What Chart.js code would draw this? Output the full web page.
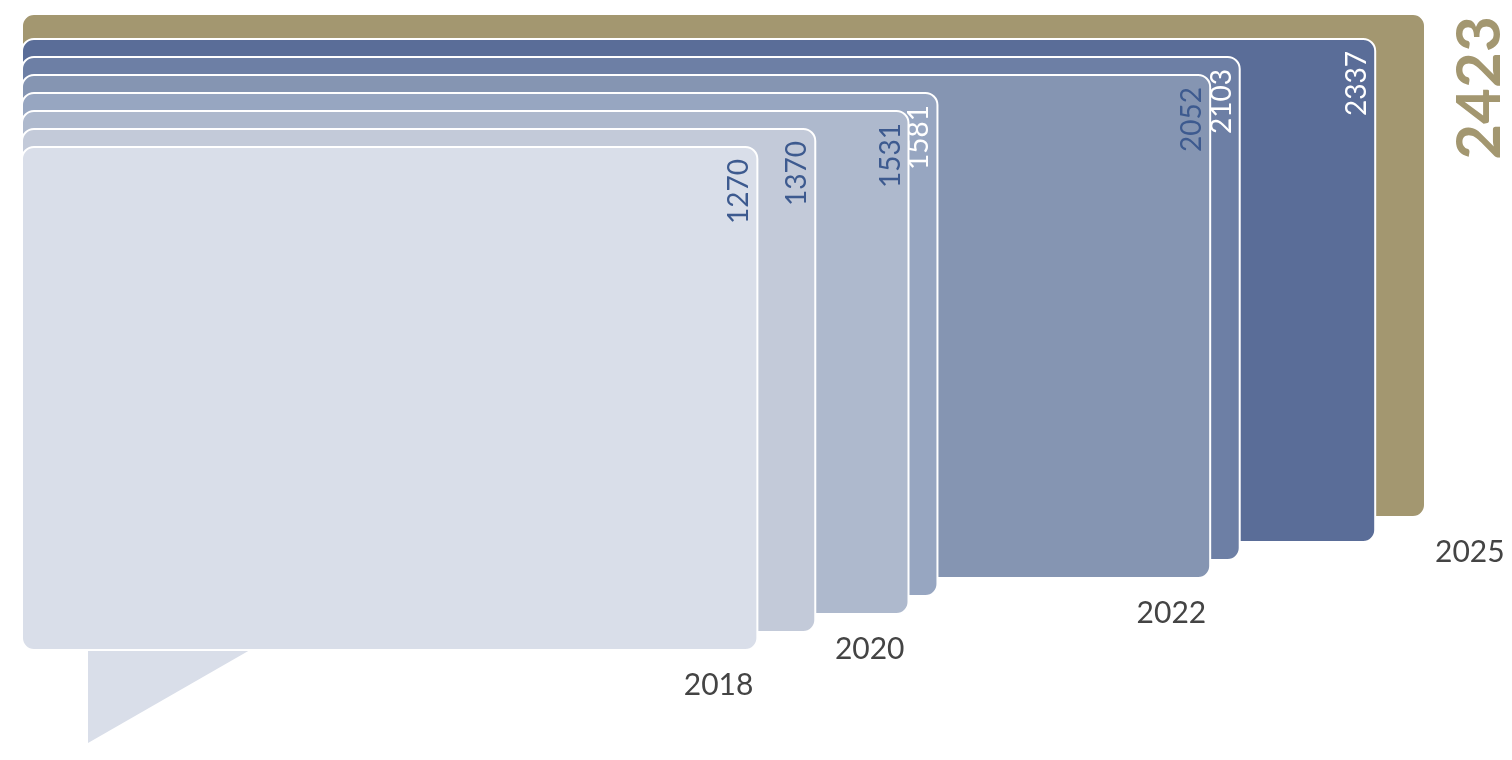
<!DOCTYPE html>
<html lang="en">
<head>
  <meta charset="UTF-8">
  <title>Yearly totals</title>
  <script src="https://cdn.jsdelivr.net/npm/chart.js"></script>
  <style>
    body { margin: 0; background: #fff; }
    #wrap { width: 1512px; height: 760px; }
  </style>
</head>
<body>
  <div id="wrap"><canvas id="c"></canvas></div>
  <script>
    const years = ['2018', '2019', '2020', '2021', '2022', '2023', '2024', '2025'];
    const values = [1270, 1370, 1531, 1581, 2052, 2103, 2337, 2423];
    const yearLabelShown = [true, false, true, false, true, false, false, true];
    const fills = ['#d9dee9', '#c3cad9', '#aeb9cd', '#97a6c1', '#8595b2', '#6d7fa5', '#5a6d98', '#a39770'];
    const textColors = ['#3d5a8f', '#3d5a8f', '#3d5a8f', '#ffffff', '#3d5a8f', '#ffffff', '#ffffff', '#a39770'];

    function rr(ctx, x, y, w, h, r) {
      ctx.beginPath();
      ctx.moveTo(x + r, y);
      ctx.arcTo(x + w, y, x + w, y + h, r);
      ctx.arcTo(x + w, y + h, x, y + h, r);
      ctx.arcTo(x, y + h, x, y, r);
      ctx.arcTo(x, y, x + w, y, r);
      ctx.closePath();
    }

    const boxes = {
      id: 'boxes',
      afterDatasetsDraw(chart) {
        const ctx = chart.ctx;
        const xs = chart.scales.x;
        const left = xs.getPixelForValue(0);
        ctx.save();
        // callout tail
        ctx.fillStyle = fills[0];
        ctx.beginPath();
        ctx.moveTo(88, 640); ctx.lineTo(88, 743); ctx.lineTo(250, 650); ctx.lineTo(250, 640);
        ctx.fill();
        for (let i = values.length - 1; i >= 0; i--) {
          const top = i === 7 ? 14 : 147 - i * 18;
          const h = 503;
          const right = xs.getPixelForValue(values[i]);
          rr(ctx, left, top, right - left, h, 12);
          ctx.fillStyle = fills[i];
          ctx.fill();
          ctx.strokeStyle = '#ffffff';
          ctx.lineWidth = 2;
          ctx.stroke();
          // value label
          ctx.save();
          const last = i === 7;
          ctx.translate(last ? 1500 : right - 9, last ? 16 : top + 12);
          ctx.rotate(-Math.PI / 2);
          ctx.textAlign = 'right';
          ctx.textBaseline = 'alphabetic';
          ctx.fillStyle = textColors[i];
          ctx.font = last ? 'bold 62px Lato' : '28px Lato';
          ctx.fillText(String(values[i]), 0, 0);
          ctx.restore();
          if (yearLabelShown[i]) {
            ctx.fillStyle = '#444444';
            ctx.font = '30px Lato';
            ctx.textBaseline = 'top';
            ctx.textAlign = last ? 'left' : 'right';
            ctx.fillText(years[i], last ? right + 10 : right - 4, top + h + 20);
          }
        }
        ctx.restore();
      }
    };

    new Chart(document.getElementById('c'), {
      type: 'scatter',
      data: { datasets: [{ data: [] }] },
      options: {
        responsive: true,
        maintainAspectRatio: false,
        animation: false,
        layout: { padding: { left: 22, right: 87, top: 0, bottom: 0 } },
        plugins: { legend: { display: false }, tooltip: { enabled: false } },
        scales: {
          x: { display: false, min: 0, max: 2423 },
          y: { display: false, min: 0, max: 760, reverse: true }
        }
      },
      plugins: [boxes]
    });
  </script>
</body>
</html>
